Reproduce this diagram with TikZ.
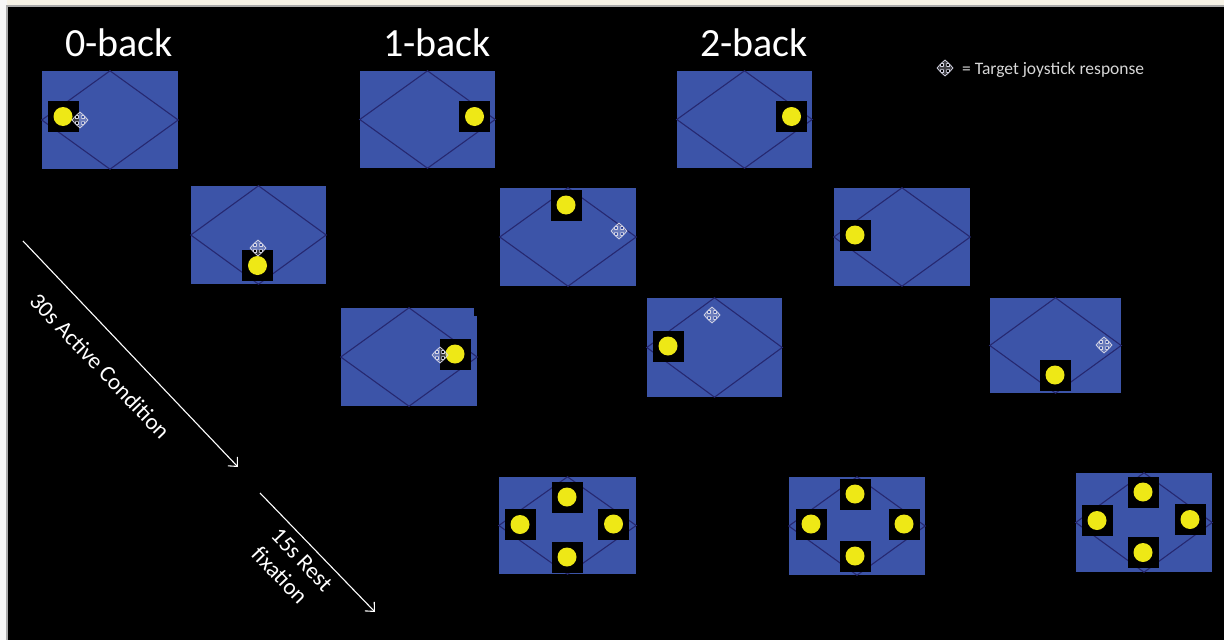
\documentclass[tikz,border=0pt]{standalone}
\usepackage{fontspec}
\setmainfont{Carlito}
\usetikzlibrary{arrows.meta}
\definecolor{panelblue}{RGB}{60,84,168}
\definecolor{diamline}{RGB}{38,40,112}
\definecolor{stimyellow}{RGB}{238,232,22}
\definecolor{crossgrey}{RGB}{215,215,230}
\definecolor{legendgrey}{RGB}{215,215,215}
\definecolor{topcream}{RGB}{246,242,230}
\definecolor{leftwhite}{RGB}{246,246,246}
\definecolor{edgegrey}{RGB}{170,170,170}
\tikzset{
  joy/.pic={\draw[crossgrey, line width=0.7pt, line join=round, fill=crossgrey, fill opacity=0.3]
    (0,-8)--(4,-4.5)--(1.6,-4.5)--(1.6,-1.6)--(4.5,-1.6)--(4.5,-4)--(8,0)--(4.5,4)--(4.5,1.6)--(1.6,1.6)--(1.6,4.5)--(4,4.5)--(0,8)
    --(-4,4.5)--(-1.6,4.5)--(-1.6,1.6)--(-4.5,1.6)--(-4.5,4)--(-8,0)--(-4.5,-4)--(-4.5,-1.6)--(-1.6,-1.6)--(-1.6,-4.5)--(-4,-4.5)--cycle;}
}
\begin{document}
\begin{tikzpicture}[x=1pt,y=-1pt,
  panel/.style={fill=panelblue, inner sep=0, minimum width=136pt, minimum height=98pt},
  diam/.style={draw=diamline, line width=1.1pt},
  stim/.style={fill=black, inner sep=0, minimum size=31pt,
    path picture={\fill[stimyellow] (path picture bounding box.center) circle[radius=9.5pt];}},
  title/.style={text=white, font=\fontsize{40}{44}\selectfont, anchor=base, inner sep=0},
  timeline/.style={draw=white, line width=1.1pt, -{Straight Barb[length=7pt,width=13pt,line width=1.1pt]}},
  timelabel/.style={text=white, font=\fontsize{23}{27}\selectfont, rotate=-46.4, inner sep=0},
  legendtext/.style={text=legendgrey, font=\fontsize{17.5}{20}\selectfont, anchor=base west, inner sep=0},
]
\useasboundingbox (0,0) rectangle (1224,640);
% frame
\fill[topcream] (0,0) rectangle (1224,6);
\fill[leftwhite] (0,0) rectangle (7,640);
\fill[edgegrey] (6,5) rectangle (1224,7.5);
\fill[edgegrey] (6,5) rectangle (8,640);
\fill[black] (8,7) rectangle (1224,640);

% titles
\node[title] (t0) at (119,56) {0-back};
\node[title] (t1) at (437,56) {1-back};
\node[title] (t2) at (754,56) {2-back};

% legend
\pic at (945,68) {joy};
\node[legendtext] (leg) at (962,74) {= Target joystick response};

% panels
\node[panel] (p1) at (110,120) {};
\node[panel, minimum width=135pt] (p2) at (258.5,235) {};
\node[panel] (p3) at (409,357) {};
\node[panel, minimum width=135pt, minimum height=97pt] (p4) at (427.5,119.5) {};
\node[panel] (p5) at (568,237) {};
\node[panel, minimum width=135pt, minimum height=99pt] (p6) at (714.5,347.5) {};
\node[panel, minimum width=135pt, minimum height=97pt] (p7) at (744.5,119.5) {};
\node[panel] (p8) at (902,237) {};
\node[panel, minimum width=131pt, minimum height=95pt] (p9) at (1055.5,345.5) {};
\node[panel, minimum width=137pt, minimum height=97pt] (r1) at (567.5,525.5) {};
\node[panel] (r2) at (857,526) {};
\node[panel, minimum height=99pt] (r3) at (1144,522.5) {};
\fill[black] (473.5,306) rectangle (479,316);

\foreach \p in {p1,p2,p3,p4,p5,p6,p7,p8,p9,r1,r2,r3}{
  \draw[diam] (\p.north) -- (\p.east) -- (\p.south) -- (\p.west) -- cycle;
}

% stimuli
\node[stim] (s1) at (63,116.5) {};
\node[stim] (s2) at (257.5,265.5) {};
\node[stim] (s3) at (455,354) {};
\node[stim] (s4) at (474.5,116.5) {};
\node[stim] (s5) at (566,205) {};
\node[stim] (s6) at (668,346) {};
\node[stim] (s7) at (791.5,116.5) {};
\node[stim] (s8) at (855,235) {};
\node[stim] (s9) at (1055,375) {};
% rest fixation stimuli
\node[stim] (r1t) at (567,497) {};
\node[stim] (r1l) at (520,524.5) {};
\node[stim] (r1r) at (613.5,524) {};
\node[stim] (r1b) at (567,557) {};
\node[stim] (r2t) at (855,494) {};
\node[stim] (r2l) at (811,524) {};
\node[stim] (r2r) at (904,524) {};
\node[stim] (r2b) at (855,556) {};
\node[stim] (r3t) at (1143,492) {};
\node[stim] (r3l) at (1097,520.5) {};
\node[stim] (r3r) at (1190,519.5) {};
\node[stim] (r3b) at (1143,552.5) {};

% joystick targets
\pic at (80,120) {joy};
\pic at (258,248) {joy};
\pic at (440,355) {joy};
\pic at (619,231) {joy};
\pic at (712,315) {joy};
\pic at (1104,345) {joy};

% time arrows
\coordinate (a1s) at (23,241);
\coordinate (a1e) at (238,467);
\coordinate (a2s) at (260,493);
\coordinate (a2e) at (375,612);
\draw[timeline] (a1s) -- (a1e);
\draw[timeline] (a2s) -- (a2e);
\node[timelabel] (l1) at (100,366) {30s Active Condition};
\node[timelabel, align=left] (l2) at (292,569) {15s Rest\\fixation};
\end{tikzpicture}
\end{document}
